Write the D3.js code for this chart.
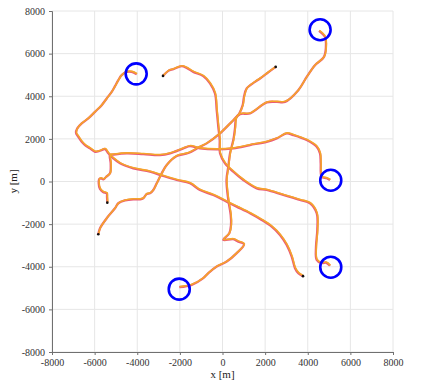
<!DOCTYPE html>
<html><head><meta charset="utf-8">
<script src="https://cdn.jsdelivr.net/npm/d3@7"></script>
<style>body{margin:0;background:#fff}</style>
</head><body>
<svg id="chart" width="423" height="383"></svg>
<script>
const xTicks = [-8000,-6000,-4000,-2000,0,2000,4000,6000,8000];
const yTicks = [-8000,-6000,-4000,-2000,0,2000,4000,6000,8000];
const xLabel = "x [m]";
const yLabel = "y [m]";

// trajectories, [x, y] in metres (start = first point)
const track1 = [[-2792,4956],[-2543,5190],[-2308,5270],[-1914,5410],[-1680,5330],[-1370,5143],[-901,4942],[-587,4600],[-352,4131],[-272,3349],[-197,2567],[-131,1944],[-117,1321],[117,852],[507,459],[976,70],[1605,-319],[2074,-398],[2853,-632],[3636,-867],[4106,-1021],[4420,-1490],[4448,-2272],[4387,-3054],[4420,-3677],[4654,-3832],[4856,-3803],[5044,-3958]];
const track2 = [[2496,5377],[2074,5068],[1760,4834],[1525,4675],[1135,4365],[1009,3972],[948,3583],[788,3194],[633,2960],[587,2506],[507,1944],[352,1321],[272,693],[188,70],[272,-867],[385,-1569],[399,-2038],[319,-2426],[38,-2740],[507,-2707],[741,-2820],[1009,-2942],[666,-3363],[197,-3757],[-272,-3991],[-666,-4300],[-901,-4534],[-1445,-4848],[-2027,-4956]];
const track3 = [[-5828,-2473],[-5748,-2192],[-5433,-1724],[-5044,-1255],[-4889,-1021],[-4575,-890],[-4185,-834],[-3871,-834],[-3716,-787],[-3557,-586],[-3402,-553],[-3247,-398],[-3087,-84],[-2853,384],[-2618,773],[-2149,1194],[-1605,1335],[-1056,1630],[-741,1789],[-117,2258],[432,2801],[821,3162],[1290,3194],[2074,3710],[2543,3738],[2933,3738],[3557,4286],[3951,4909],[4340,5457],[4762,5846],[4856,6473],[4809,6782],[4528,7064]];
const track4 = [[-5405,-993],[-5419,-726],[-5433,-553],[-5607,-492],[-5748,-351],[-5809,-70],[-5781,117],[-5701,150],[-5593,103],[-5466,211],[-5279,384],[-5246,852],[-5279,1241],[-5124,1265],[-4495,1321],[-3716,1288],[-2933,1241],[-2463,1321],[-1839,1555],[-1525,1663],[-1056,1555],[-272,1508],[507,1555],[1290,1710],[2074,1864],[2543,2023],[3012,2258],[3322,2178],[3951,1944],[4420,1630],[4575,1321],[4608,852],[4654,225],[4889,150],[5044,70]];
const track5 = [[3777,-4440],[3557,-4300],[3402,-4066],[3247,-3522],[3012,-2974],[2698,-2506],[2308,-2117],[1839,-1803],[1290,-1490],[666,-1180],[197,-946],[-432,-632],[-1056,-398],[-1525,-84],[-2149,70],[-2778,258],[-3402,459],[-4185,618],[-4809,852],[-5124,1087],[-5358,1321],[-5513,1522],[-5748,1443],[-5982,1396],[-6217,1555],[-6452,1710],[-6606,1864],[-6766,2098],[-6874,2286],[-6813,2492],[-6606,2726],[-6297,2960],[-5982,3269],[-5668,3583],[-5433,3897],[-5199,4206],[-5044,4473],[-4889,4754],[-4730,4988],[-4495,5143],[-4260,5143],[-4026,5035]];
const tracks = [track1, track2, track3, track4, track5];
const targets = [[-4050,5050],[4580,7120],[5080,60],[5080,-4020],[-2030,-5050]];

const svg = d3.select("#chart");
const x = d3.scaleLinear().domain([-8000,8000]).range([52,393]);
const y = d3.scaleLinear().domain([-8000,8000]).range([352,11]);
const font = "'Liberation Serif','DejaVu Serif',serif";

// grid
const g = svg.append("g");
g.selectAll(".gx").data(xTicks).join("line")
  .attr("x1", d=>x(d)).attr("x2", d=>x(d)).attr("y1", y(-8000)).attr("y2", y(8000))
  .attr("stroke", "#e6e6e6").attr("stroke-width", 1);
g.selectAll(".gy").data(yTicks).join("line")
  .attr("y1", d=>y(d)).attr("y2", d=>y(d)).attr("x1", x(-8000)).attr("x2", x(8000))
  .attr("stroke", "#e6e6e6").attr("stroke-width", 1);

// axes
const fmt = d => String(d);
const ax = svg.append("g").attr("transform", `translate(0,${y(-8000)})`)
  .call(d3.axisBottom(x).tickValues(xTicks).tickFormat(fmt).tickSize(3).tickPadding(4));
const ay = svg.append("g").attr("transform", `translate(${x(-8000)},0)`)
  .call(d3.axisLeft(y).tickValues(yTicks).tickFormat(fmt).tickSize(3).tickPadding(4));
[ax, ay].forEach(a => {
  a.selectAll("path.domain").attr("stroke", "#707070");
  a.selectAll(".tick line").attr("stroke", "#707070");
  a.selectAll("text").attr("font-family", font).attr("font-size", 10).attr("fill", "#333");
});

svg.append("text").attr("x", x(0)).attr("y", 378).attr("text-anchor", "middle")
  .attr("font-family", font).attr("font-size", 11).attr("fill", "#222").text(xLabel);
svg.append("text").attr("transform", `translate(17,${y(0)}) rotate(-90)`).attr("text-anchor", "middle")
  .attr("font-family", font).attr("font-size", 11).attr("fill", "#222").text(yLabel);

// tracks
const line = d3.line().x(d=>x(d[0])).y(d=>y(d[1])).curve(d3.curveCatmullRom.alpha(0.5));
const tg = svg.append("g");
tracks.forEach(t => {
  tg.append("path").attr("d", line(t)).attr("fill", "none")
    .attr("stroke", "#ea5a78").attr("stroke-width", 2.3).attr("stroke-linejoin", "round");
});
tracks.forEach(t => {
  tg.append("path").attr("d", line(t)).attr("fill", "none").attr("transform", "translate(0.4,-0.5)")
    .attr("stroke", "#f5a52a").attr("stroke-width", 1.6).attr("stroke-linejoin", "round");
});
// start markers
tg.selectAll(".start").data(tracks).join("circle")
  .attr("cx", d=>x(d[0][0])).attr("cy", d=>y(d[0][1])).attr("r", 1.3).attr("fill", "#111");

// target circles
svg.selectAll(".target").data(targets).join("circle")
  .attr("cx", d=>x(d[0])).attr("cy", d=>y(d[1])).attr("r", 10.5)
  .attr("fill", "none").attr("stroke", "#0000ff").attr("stroke-width", 2.6);
</script>
</body></html>
